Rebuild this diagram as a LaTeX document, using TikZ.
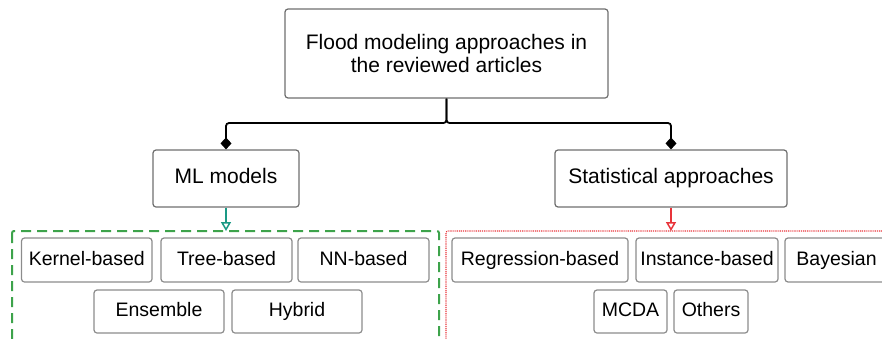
\documentclass[tikz,border=0pt]{standalone}
\usepackage{fontspec}
\setmainfont{Liberation Sans}
\usetikzlibrary{arrows.meta}
\definecolor{boxgray}{HTML}{8C8C8C}
\definecolor{topgray}{HTML}{6E6E6E}
\definecolor{tealc}{HTML}{1A9985}
\definecolor{greenc}{HTML}{3DA34B}
\definecolor{redc}{HTML}{E8343A}
\begin{document}
\begin{tikzpicture}[x=1pt,y=-1pt,
  box/.style={draw=boxgray, line width=1.2pt, rounded corners=3pt, inner sep=0pt,
    align=center, text height=14pt, text depth=4pt, font=\fontsize{19.5}{22}\selectfont},
  mainbox/.style={box, draw=topgray, text height=15pt, text depth=5pt, font=\fontsize{21}{23.5}\selectfont},
  twoline/.style={text height=, text depth=},
  conn/.style={line width=1.8pt, rounded corners=3pt, -{Diamond[length=12pt,width=11pt]}},
  mlarrow/.style={draw=tealc, line width=1.5pt, -{Triangle[open,length=9pt,width=10pt,line width=1.5pt]}},
  starrow/.style={draw=redc, line width=1.5pt, -{Triangle[open,length=9pt,width=10pt,line width=1.5pt]}},
  mlgroup/.style={draw=greenc, line width=2pt, dash pattern=on 10pt off 6pt, rounded corners=2pt},
  stgroup/.style={draw=redc, line width=1.1pt, dash pattern=on 1pt off 0.9pt, rounded corners=2pt}
]
\useasboundingbox (0,0) rectangle (882,338);
\clip (0,0) rectangle (882,338);

% group frames
\draw[mlgroup] (12,231) rectangle (439,360);
\draw[stgroup] (446,231) rectangle (905,360);
\coordinate (mlin) at (226,231);
\coordinate (stin) at (671,231);

% main boxes
\node[mainbox, twoline, minimum width=323, minimum height=89] (top) at (446.5,53.5)
  {Flood modeling approaches in\\the reviewed articles};
\node[mainbox, minimum width=146, minimum height=57] (ml) at (226,178.5) {ML models};
\node[mainbox, minimum width=232, minimum height=57] (st) at (671,178.5) {Statistical approaches};

% connectors
\coordinate (junc) at (446.5,123);
\draw[conn] (top.south) -- (junc) -| (ml.north);
\draw[conn] (top.south) -- (junc) -| (st.north);
\draw[mlarrow] (ml.south) -- (mlin);
\draw[starrow] (st.south) -- (stin);

% ML children
\node[box, minimum width=130.5, minimum height=44] (kernel) at (86.75,260) {Kernel-based};
\node[box, minimum width=131, minimum height=44] (tree) at (226.5,260) {Tree-based};
\node[box, minimum width=131, minimum height=44] (nn) at (363.5,260) {NN-based};
\node[box, minimum width=130, minimum height=43] (ens) at (159,311.5) {Ensemble};
\node[box, minimum width=130, minimum height=43] (hyb) at (297,311.5) {Hybrid};

% Statistical children
\node[box, minimum width=176, minimum height=44] (reg) at (540,260) {Regression-based};
\node[box, minimum width=142, minimum height=44] (inst) at (707,260) {Instance-based};
\node[box, minimum width=103, minimum height=44] (bay) at (836.5,260) {Bayesian};
\node[box, minimum width=73, minimum height=43] (mcda) at (630.5,311.5) {MCDA};
\node[box, minimum width=74, minimum height=43] (oth) at (711,311.5) {Others};
\end{tikzpicture}
\end{document}
